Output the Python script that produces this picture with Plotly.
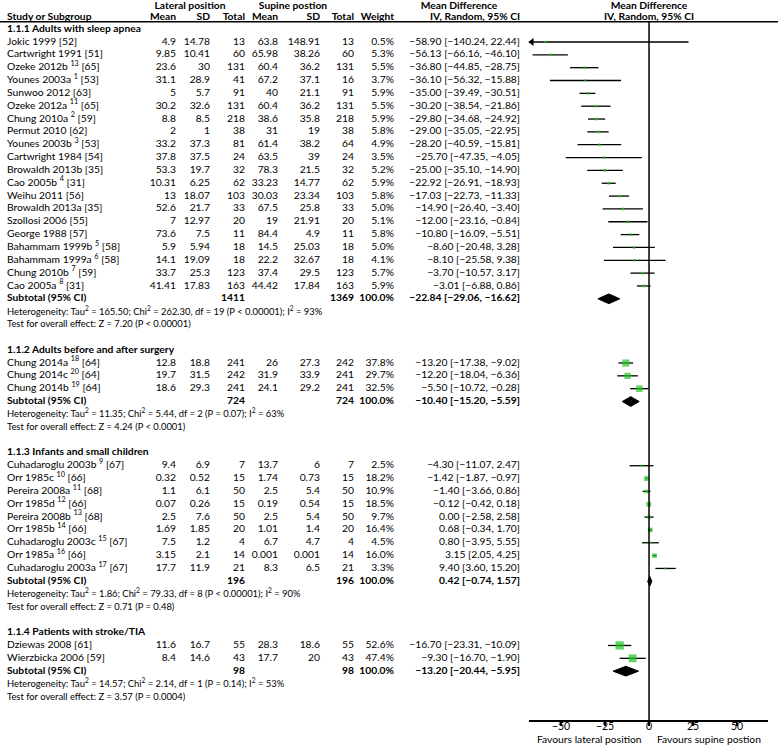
import plotly.graph_objects as go

# ---------------- data ----------------
g1_title = "1.1.1 Adults with sleep apnea"
g1_names = ["Jokic 1999", "Cartwright 1991", "Ozeke 2012b", "Younes 2003a", "Sunwoo 2012", "Ozeke 2012a",
            "Chung 2010a", "Permut 2010", "Younes 2003b", "Cartwright 1984", "Browaldh 2013b", "Cao 2005b",
            "Weihu 2011", "Browaldh 2013a", "Szollosi 2006", "George 1988", "Bahammam 1999b", "Bahammam 1999a",
            "Chung 2010b", "Cao 2005a"]
g1_notes = ["", "", "13", "1", "", "11", "2", "", "3", "", "", "4", "", "", "", "", "5", "6", "7", "8"]
g1_refs = [52, 51, 65, 53, 63, 65, 59, 62, 53, 54, 35, 31, 56, 35, 55, 57, 58, 58, 59, 31]
g1_lat_mean = [4.9, 9.85, 23.6, 31.1, 5, 30.2, 8.8, 2, 33.2, 37.8, 53.3, 10.31, 13, 52.6, 7, 73.6, 5.9, 14.1, 33.7, 41.41]
g1_lat_sd = [14.78, 10.41, 30, 28.9, 5.7, 32.6, 8.5, 1, 37.3, 37.5, 19.7, 6.25, 18.07, 21.7, 12.97, 7.5, 5.94, 19.09, 25.3, 17.83]
g1_lat_n = [13, 60, 131, 41, 91, 131, 218, 38, 81, 24, 32, 62, 103, 33, 20, 11, 18, 18, 123, 163]
g1_sup_mean = [63.8, 65.98, 60.4, 67.2, 40, 60.4, 38.6, 31, 61.4, 63.5, 78.3, 33.23, 30.03, 67.5, 19, 84.4, 14.5, 22.2, 37.4, 44.42]
g1_sup_sd = [148.91, 38.26, 36.2, 37.1, 21.1, 36.2, 35.8, 19, 38.2, 39, 21.5, 14.77, 23.34, 25.8, 21.91, 4.9, 25.03, 32.67, 29.5, 17.84]
g1_sup_n = [13, 60, 131, 16, 91, 131, 218, 38, 64, 24, 32, 62, 103, 33, 20, 11, 18, 18, 123, 163]
g1_weight = [0.5, 5.3, 5.5, 3.7, 5.9, 5.5, 5.9, 5.8, 4.9, 3.5, 5.2, 5.9, 5.8, 5.0, 5.1, 5.8, 5.0, 4.1, 5.7, 5.9]
g1_md = [-58.90, -56.13, -36.80, -36.10, -35.00, -30.20, -29.80, -29.00, -28.20, -25.70, -25.00, -22.92, -17.03,
         -14.90, -12.00, -10.80, -8.60, -8.10, -3.70, -3.01]
g1_lo = [-140.24, -66.16, -44.85, -56.32, -39.49, -38.54, -34.68, -35.05, -40.59, -47.35, -35.10, -26.91, -22.73,
         -26.40, -23.16, -16.09, -20.48, -25.58, -10.57, -6.88]
g1_hi = [22.44, -46.10, -28.75, -15.88, -30.51, -21.86, -24.92, -22.95, -15.81, -4.05, -14.90, -18.93, -11.33,
         -3.40, -0.84, -5.51, 3.28, 9.38, 3.17, 0.86]
g1_total = [1411, 1369, -22.84, -29.06, -16.62]
g1_het = ["165.50", "262.30", "19", "P &lt; 0.00001", "93"]
g1_test = ["7.20", "P &lt; 0.00001"]

g2_title = "1.1.2 Adults before and after surgery"
g2_names = ["Chung 2014a", "Chung 2014c", "Chung 2014b"]
g2_notes = ["18", "20", "19"]
g2_refs = [64, 64, 64]
g2_lat_mean = [12.8, 19.7, 18.6]
g2_lat_sd = [18.8, 31.5, 29.3]
g2_lat_n = [241, 242, 241]
g2_sup_mean = [26, 31.9, 24.1]
g2_sup_sd = [27.3, 33.9, 29.2]
g2_sup_n = [242, 241, 241]
g2_weight = [37.8, 29.7, 32.5]
g2_md = [-13.20, -12.20, -5.50]
g2_lo = [-17.38, -18.04, -10.72]
g2_hi = [-9.02, -6.36, -0.28]
g2_total = [724, 724, -10.40, -15.20, -5.59]
g2_het = ["11.35", "5.44", "2", "P = 0.07", "63"]
g2_test = ["4.24", "P &lt; 0.0001"]

g3_title = "1.1.3 Infants and small children"
g3_names = ["Cuhadaroglu 2003b", "Orr 1985c", "Pereira 2008a", "Orr 1985d", "Pereira 2008b", "Orr 1985b",
            "Cuhadaroglu 2003c", "Orr 1985a", "Cuhadaroglu 2003a"]
g3_notes = ["9", "10", "11", "12", "13", "14", "15", "16", "17"]
g3_refs = [67, 66, 68, 66, 68, 66, 67, 66, 67]
g3_lat_mean = [9.4, 0.32, 1.1, 0.07, 2.5, 1.69, 7.5, 3.15, 17.7]
g3_lat_sd = [6.9, 0.52, 6.1, 0.26, 7.6, 1.85, 1.2, 2.1, 11.9]
g3_lat_n = [7, 15, 50, 15, 50, 20, 4, 14, 21]
g3_sup_mean = [13.7, 1.74, 2.5, 0.19, 2.5, 1.01, 6.7, 0.001, 8.3]
g3_sup_sd = [6, 0.73, 5.4, 0.54, 5.4, 1.4, 4.7, 0.001, 6.5]
g3_sup_n = [7, 15, 50, 15, 50, 20, 4, 14, 21]
g3_weight = [2.5, 18.2, 10.9, 18.5, 9.7, 16.4, 4.5, 16.0, 3.3]
g3_md = [-4.30, -1.42, -1.40, -0.12, 0.00, 0.68, 0.80, 3.15, 9.40]
g3_lo = [-11.07, -1.87, -3.66, -0.42, -2.58, -0.34, -3.95, 2.05, 3.60]
g3_hi = [2.47, -0.97, 0.86, 0.18, 2.58, 1.70, 5.55, 4.25, 15.20]
g3_total = [196, 196, 0.42, -0.74, 1.57]
g3_het = ["1.86", "79.33", "8", "P &lt; 0.00001", "90"]
g3_test = ["0.71", "P = 0.48"]

g4_title = "1.1.4 Patients with stroke/TIA"
g4_names = ["Dziewas 2008", "Wierzbicka 2006"]
g4_notes = ["", ""]
g4_refs = [61, 59]
g4_lat_mean = [11.6, 8.4]
g4_lat_sd = [16.7, 14.6]
g4_lat_n = [55, 43]
g4_sup_mean = [28.3, 17.7]
g4_sup_sd = [18.6, 20]
g4_sup_n = [55, 43]
g4_weight = [52.6, 47.4]
g4_md = [-16.70, -9.30]
g4_lo = [-23.31, -16.70]
g4_hi = [-10.09, -1.90]
g4_total = [98, 98, -13.20, -20.44, -5.95]
g4_het = ["14.57", "2.14", "1", "P = 0.14", "53"]
g4_test = ["3.57", "P = 0.0004"]

x_ticks = [-50, -25, 0, 25, 50]
x_left_label = "Favours lateral position"
x_right_label = "Favours supine postion"

# ---------------- layout constants ----------------
W, H = 778, 745
FONT = "Lato"
FS = 10.3
FS_NOTE = 9.4
ROW0_PX, STEP = 42.0, 12.84
AX_PX = 720
YR = [(AX_PX - ROW0_PX) / STEP, -ROW0_PX / STEP]
XR = [-68.2, 67.6]
FOREST_DOM = [529 / W, 768 / W]
GREEN = "#22c322"

COLX = dict(name=7, lm=176, lsd=210, ln=245, sm=278, ssd=320, sn=354, w=394, md=520)


def num(v):
    return f"{v:g}"


def dec(v):
    return f"{v:.2f}".replace("-", "\u2212")


def ci(m, l, h):
    return f"{dec(m)} [{dec(l)}, {dec(h)}]"


groups = [
    (g1_title, g1_names, g1_notes, g1_refs, g1_lat_mean, g1_lat_sd, g1_lat_n, g1_sup_mean, g1_sup_sd, g1_sup_n,
     g1_weight, g1_md, g1_lo, g1_hi, g1_total, g1_het, g1_test),
    (g2_title, g2_names, g2_notes, g2_refs, g2_lat_mean, g2_lat_sd, g2_lat_n, g2_sup_mean, g2_sup_sd, g2_sup_n,
     g2_weight, g2_md, g2_lo, g2_hi, g2_total, g2_het, g2_test),
    (g3_title, g3_names, g3_notes, g3_refs, g3_lat_mean, g3_lat_sd, g3_lat_n, g3_sup_mean, g3_sup_sd, g3_sup_n,
     g3_weight, g3_md, g3_lo, g3_hi, g3_total, g3_het, g3_test),
    (g4_title, g4_names, g4_notes, g4_refs, g4_lat_mean, g4_lat_sd, g4_lat_n, g4_sup_mean, g4_sup_sd, g4_sup_n,
     g4_weight, g4_md, g4_lo, g4_hi, g4_total, g4_het, g4_test),
]

texts = {"left": [], "right": [], "center": [], "note": []}


def put(align, x, y, t):
    texts[align].append((x, y, t))


# header
HR1, HR2, HLINE = -2.8, -1.9, -1.58
put("center", 190, HR1, "<b>Lateral position</b>")
put("center", 293, HR1, "<b>Supine postion</b>")
put("center", 459, HR1, "<b>Mean Difference</b>")
put("left", COLX["name"], HR2, "<b>Study or Subgroup</b>")
for key, lab in [("lm", "Mean"), ("lsd", "SD"), ("ln", "Total"), ("sm", "Mean"), ("ssd", "SD"), ("sn", "Total"),
                 ("w", "Weight"), ("md", "IV, Random, 95% CI")]:
    put("right", COLX[key], HR2, f"<b>{lab}</b>")

sq_x, sq_y, sq_s = [], [], []
ci_x, ci_y = [], []
arrows_x, arrows_y = [], []
diamonds = []

r = 0.0
for (title, names, notes, refs, lm, lsd, ln, sm, ssd, sn, wt, md, lo, hi, tot, het, test) in groups:
    put("left", COLX["name"], r - 1, f"<b>{title}</b>")
    for i in range(len(names)):
        y = r + i
        nm = f"{names[i]} <sup>{notes[i]}</sup> [{refs[i]}]" if notes[i] else f"{names[i]} [{refs[i]}]"
        put("left", COLX["name"], y, nm)
        put("right", COLX["lm"], y, num(lm[i]))
        put("right", COLX["lsd"], y, num(lsd[i]))
        put("right", COLX["ln"], y, num(ln[i]))
        put("right", COLX["sm"], y, num(sm[i]))
        put("right", COLX["ssd"], y, num(ssd[i]))
        put("right", COLX["sn"], y, num(sn[i]))
        put("right", COLX["w"], y, f"{wt[i]:.1f}%")
        put("right", COLX["md"], y, ci(md[i], lo[i], hi[i]))
        sq_x.append(md[i]); sq_y.append(y); sq_s.append(max(2.2, 1.15 * wt[i] ** 0.5))
        ci_x += [lo[i], hi[i], None]; ci_y += [y, y, None]
        if lo[i] < XR[0]:
            arrows_x.append(XR[0] + 1.6); arrows_y.append(y)
    s = r + len(names)
    put("left", COLX["name"], s, "<b>Subtotal (95% CI)</b>")
    put("right", COLX["ln"], s, f"<b>{tot[0]}</b>")
    put("right", COLX["sn"], s, f"<b>{tot[1]}</b>")
    put("right", COLX["w"], s, "<b>100.0%</b>")
    put("right", COLX["md"], s, f"<b>{ci(tot[2], tot[3], tot[4])}</b>")
    diamonds.append((tot[2], tot[3], tot[4], s))
    put("note", COLX["name"], s + 1.05,
        f"Heterogeneity: Tau<sup>2</sup> = {het[0]}; Chi<sup>2</sup> = {het[1]}, df = {het[2]} ({het[3]}); "
        f"I<sup>2</sup> = {het[4]}%")
    put("note", COLX["name"], s + 2.05, f"Test for overall effect: Z = {test[0]} ({test[1]})")
    r = s + 5

fig = go.Figure()

# text columns (full-width pixel axis "x")
pos_map = {"left": "middle right", "right": "middle left", "center": "middle center", "note": "middle right"}
for align, items in texts.items():
    fig.add_trace(go.Scatter(x=[it[0] for it in items], y=[it[1] for it in items],
                             text=[it[2] for it in items], mode="text", textposition=pos_map[align],
                             textfont=dict(family=FONT, size=FS_NOTE if align == "note" else FS, color="black"),
                             cliponaxis=False, hoverinfo="skip", showlegend=False, xaxis="x", yaxis="y"))

# CI lines (forest axis "x2")
fig.add_trace(go.Scatter(x=ci_x, y=ci_y, mode="lines", line=dict(color="black", width=1.3),
                         hoverinfo="skip", showlegend=False, xaxis="x2", yaxis="y"))
# squares
fig.add_trace(go.Scatter(x=sq_x, y=sq_y, mode="markers",
                         marker=dict(symbol="square", size=sq_s, color=GREEN, line=dict(width=0)),
                         showlegend=False, xaxis="x2", yaxis="y"))
# arrows for truncated CIs
fig.add_trace(go.Scatter(x=arrows_x, y=arrows_y, mode="markers",
                         marker=dict(symbol="triangle-left", size=7, color="black"),
                         showlegend=False, cliponaxis=False, xaxis="x2", yaxis="y"))
# diamonds
DH = 0.38
for est, lo_, hi_, y in diamonds:
    fig.add_trace(go.Scatter(x=[lo_, est, hi_, est, lo_], y=[y, y - DH, y, y + DH, y], mode="lines",
                             fill="toself", fillcolor="black", line=dict(color="black", width=1),
                             showlegend=False, xaxis="x2", yaxis="y"))

# forest headers
fig.add_trace(go.Scatter(x=[0, 0], y=[HR1, HR2], text=["<b>Mean Difference</b>", "<b>IV, Random, 95% CI</b>"],
                         mode="text", textposition="middle center",
                         textfont=dict(family=FONT, size=FS, color="black"), cliponaxis=False,
                         showlegend=False, xaxis="x2", yaxis="y"))

# header rule and zero line
fig.add_shape(type="line", xref="paper", yref="y", x0=0, x1=1, y0=HLINE, y1=HLINE,
              line=dict(color="black", width=1.5))
fig.add_shape(type="line", xref="x2", yref="y", x0=0, x1=0, y0=HLINE, y1=YR[0],
              line=dict(color="black", width=1.5))

fig.add_annotation(x=XR[0] / 2, y=-(739 - AX_PX) / AX_PX, xref="x2", yref="paper", text=x_left_label,
                   showarrow=False, xanchor="center", yanchor="middle",
                   font=dict(family=FONT, size=FS, color="black"))
fig.add_annotation(x=XR[1] / 2, y=-(739 - AX_PX) / AX_PX, xref="x2", yref="paper", text=x_right_label,
                   showarrow=False, xanchor="center", yanchor="middle",
                   font=dict(family=FONT, size=FS, color="black"))

fig.update_layout(
    width=W, height=H, margin=dict(l=0, r=0, t=0, b=H - AX_PX, pad=0),
    paper_bgcolor="white", plot_bgcolor="rgba(0,0,0,0)",
    font=dict(family=FONT, size=FS, color="black"),
    xaxis=dict(domain=[0, 1], range=[0, W], anchor="y", visible=False, fixedrange=True),
    xaxis2=dict(domain=FOREST_DOM, range=XR, anchor="y", tickvals=x_ticks, ticks="outside", ticklen=4,
                tickwidth=1.5, tickcolor="black", showline=True, linewidth=1.5, linecolor="black",
                showgrid=False, zeroline=False, tickfont=dict(family=FONT, size=10.5, color="black"),
                ticklabelstandoff=-8, fixedrange=True),
    yaxis=dict(range=YR, visible=False, domain=[0, 1], fixedrange=True),
)

fig.write_html("out.html", config={"displayModeBar": False},
               post_script="document.body.style.margin='0px';")
